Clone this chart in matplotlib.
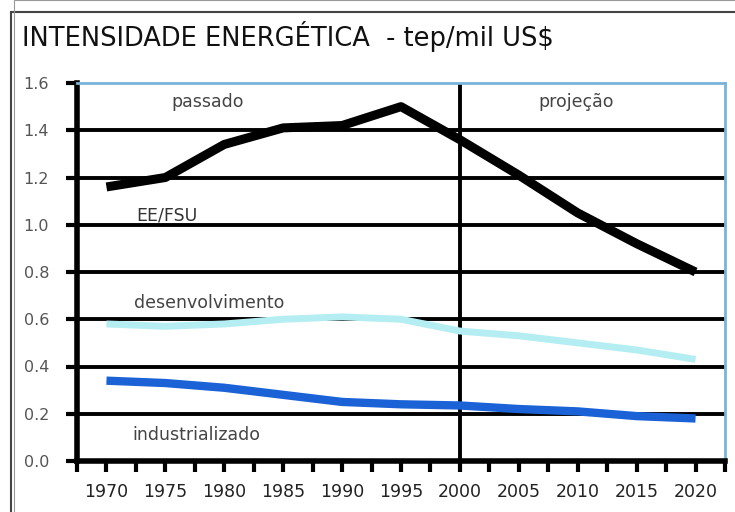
import matplotlib
matplotlib.use("Agg")
import matplotlib.pyplot as plt
from matplotlib.patches import Rectangle
import numpy as np

years = [1970, 1975, 1980, 1985, 1990, 1995, 2000, 2005, 2010, 2015, 2020]
ee_fsu = [1.16, 1.20, 1.34, 1.41, 1.42, 1.50, 1.36, 1.21, 1.05, 0.92, 0.80]
desenvolvimento = [0.58, 0.57, 0.58, 0.60, 0.61, 0.60, 0.55, 0.53, 0.50, 0.47, 0.43]
industrializado = [0.34, 0.33, 0.31, 0.28, 0.25, 0.24, 0.235, 0.22, 0.21, 0.19, 0.18]
yticks = [0.0, 0.2, 0.4, 0.6, 0.8, 1.0, 1.2, 1.4, 1.6]
xlabels = ["1970", "1975", "1980", "1985", "1990", "1995", "2000", "2005", "2010", "2015", "2020"]
divider_year = 2000
title = "INTENSIDADE ENERGÉTICA  - tep/mil US$"

fig = plt.figure(figsize=(7.35, 5.12), dpi=100)
fig.patch.set_facecolor("white")

# outer frame
fig.add_artist(Rectangle((11/735, -0.05), 1.1, 1.05 - 12/512, transform=fig.transFigure,
                         fill=False, edgecolor="#444444", linewidth=1.5))
fig.add_artist(Rectangle((14/735, -0.05), 1.1, 1.05, transform=fig.transFigure,
                         fill=False, edgecolor="#999999", linewidth=0.8))

ax = fig.add_axes([77/735, 51/512, 648/735, 378/512])
ax.set_xlim(1967.5, 2022.5)
ax.set_ylim(0, 1.6)

for y in yticks[1:-1]:
    ax.axhline(y, color="black", linewidth=2.8, zorder=1)
ax.axvline(divider_year, color="black", linewidth=2.8, zorder=1)

ax.plot(years, desenvolvimento, color="#b4eef2", linewidth=5, solid_capstyle="butt", zorder=3)
ax.plot(years, industrializado, color="#1a62d6", linewidth=6, solid_capstyle="butt", zorder=3)
ax.plot(years, ee_fsu, color="black", linewidth=6.5, solid_capstyle="butt", zorder=4)

ax.spines["left"].set_linewidth(4)
ax.spines["bottom"].set_linewidth(4)
ax.spines["left"].set_color("black")
ax.spines["bottom"].set_color("black")
ax.spines["top"].set_color("#7ab4d8")
ax.spines["right"].set_color("#7ab4d8")
ax.spines["top"].set_linewidth(2)
ax.spines["right"].set_linewidth(2)

ax.set_yticks(yticks)
ax.set_yticklabels([f"{v:.1f}" for v in yticks], fontsize=11.5, color="#555555")
ax.tick_params(axis="y", length=8, width=3, color="black", pad=12)

xt = np.arange(1967.5, 2022.6, 2.5)
label_map = dict(zip(years, xlabels))
ax.set_xticks(xt)
ax.set_xticklabels([label_map.get(int(v), "") if float(v).is_integer() else "" for v in xt],
                   fontsize=12.5, color="#222222")
ax.tick_params(axis="x", length=8, width=3, color="black", pad=8)

ax.text(1978.6, 1.52, "passado", fontsize=12.5, color="#444444", ha="center", va="center")
ax.text(2009.9, 1.52, "projeção", fontsize=12.5, color="#444444", ha="center", va="center")
ax.text(1975.1, 1.04, "EE/FSU", fontsize=12.5, color="#333333", ha="center", va="center")
ax.text(1978.7, 0.67, "desenvolvimento", fontsize=12.5, color="#444444", ha="center", va="center")
ax.text(1977.6, 0.11, "industrializado", fontsize=12.5, color="#444444", ha="center", va="center")

fig.text(22/735, 1 - 36/512, title, fontsize=18.5, color="#111111", ha="left", va="center")

fig.savefig("out.png", dpi=100)
